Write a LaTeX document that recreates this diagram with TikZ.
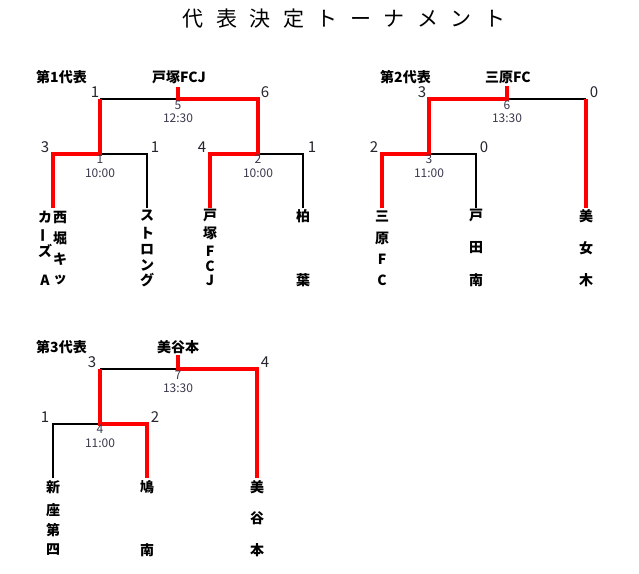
\documentclass[tikz,border=0pt]{standalone}
\usepackage{fontspec}
\setmainfont{Noto Sans CJK JP}
\definecolor{scorecol}{HTML}{252530}
\definecolor{matchcol}{HTML}{3A3A4E}
\definecolor{winred}{HTML}{FF0000}
\newcommand\tgap{\hspace{12.5pt}}
\newcommand\teamcol[3]{%
  \foreach \yy/\cc [count=\ii] in {#3} {\node[team] (#1-\ii) at (#2,\yy) {\cc};}%
}
\tikzset{
  team/.style={inner sep=0pt, font=\bfseries\fontsize{14}{16}\selectfont},
  hdr/.style={inner sep=0pt, font=\bfseries\fontsize{14}{16}\selectfont},
  score/.style={inner sep=0pt, text=scorecol, font=\fontsize{15}{17}\selectfont},
  mlabel/.style={inner sep=0pt, text=matchcol, font=\fontsize{12}{14}\selectfont},
  blkline/.style={draw=black, line width=1.6pt, line join=miter},
  redline/.style={draw=winred, line width=4pt, line join=miter},
}
\begin{document}
\begin{tikzpicture}[x=1pt,y=-1pt]
\useasboundingbox[fill=white] (0,0) rectangle (639,573);

% title
\node[inner sep=0pt, font=\fontsize{21}{24}\selectfont] (title) at (344,18.5)
  {代\tgap 表\tgap 決\tgap 定\tgap ト\tgap ー\tgap ナ\tgap メ\tgap ン\tgap ト};

% ---------------- bracket 1 ----------------
\node[hdr] (h1) at (61.5,77) {第1代表};
\node[hdr] (w1) at (179,77) {戸塚FCJ};
\coordinate (a1) at (178,87);  \coordinate (j5) at (178,99);
\coordinate (L5) at (100,99);  \coordinate (R5) at (258,99);
\coordinate (j1) at (100,154); \coordinate (l1) at (53,154);  \coordinate (r1) at (147,154);
\coordinate (l1b) at (53,208); \coordinate (r1b) at (147,208);
\coordinate (j2) at (258,154); \coordinate (l2) at (210,154); \coordinate (r2) at (303,154);
\coordinate (l2b) at (210,208); \coordinate (r2b) at (303,208);
\draw[blkline] (L5) -- (j5);
\draw[blkline] (j1) -- (r1) -- (r1b);
\draw[blkline] (j2) -- (r2) -- (r2b);
\draw[redline] (l1b) -- (l1) -- (j1) -- (L5);
\draw[redline] (l2b) -- (l2) -- (j2) -- (R5) -- (j5) -- (a1);

\node[score] (s1a) at (95,92) {1};
\node[score] (s1b) at (265,92) {6};
\node[score] (s1c) at (45,147) {3};
\node[score] (s1d) at (155,147) {1};
\node[score] (s1e) at (202,147) {4};
\node[score] (s1f) at (312,147) {1};
\node[mlabel] (m5) at (178,105) {5};
\node[mlabel] (t5) at (178,118) {12:30};
\node[mlabel] (m1) at (100,159) {1};
\node[mlabel] (t1) at (100,173) {10:00};
\node[mlabel] (m2) at (258,159) {2};
\node[mlabel] (t2) at (258,173) {10:00};

\teamcol{nsa}{60}{217/西,238/堀,259/キ,280/ッ}
\teamcol{nsb}{45}{217/カ,235/{\rotatebox{90}{ー}},251/ズ,280/A}
\teamcol{str}{147}{216/ス,233/ト,250/ロ,265/ン,280/グ}
\teamcol{tzk}{210}{216/戸,233/塚,251/F,266/C,280/J}
\teamcol{kash}{303}{216/柏,280/葉}

% ---------------- bracket 2 ----------------
\node[hdr] (h2) at (405.5,77) {第2代表};
\node[hdr] (w2) at (508,77) {三原FC};
\coordinate (a2) at (507,86);  \coordinate (j6) at (507,99);
\coordinate (L6) at (429,99);  \coordinate (R6) at (586,99); \coordinate (R6b) at (586,208);
\coordinate (j3) at (429,154); \coordinate (l3) at (382,154); \coordinate (r3) at (476,154);
\coordinate (l3b) at (382,208); \coordinate (r3b) at (476,208);
\draw[blkline] (j6) -- (R6);
\draw[blkline] (j3) -- (r3) -- (r3b);
\draw[redline] (l3b) -- (l3) -- (j3) -- (L6) -- (j6) -- (a2);
\draw[redline] (R6) -- (R6b);

\node[score] (s2a) at (422,92) {3};
\node[score] (s2b) at (594,92) {0};
\node[score] (s2c) at (374,147) {2};
\node[score] (s2d) at (484,147) {0};
\node[mlabel] (m6) at (507,105) {6};
\node[mlabel] (t6) at (507,118) {13:30};
\node[mlabel] (m3) at (429,159) {3};
\node[mlabel] (t3) at (429,173) {11:00};

\teamcol{mih}{382}{216/三,238/原,259/F,280/C}
\teamcol{tod}{476}{216/戸,248/田,280/南}
\teamcol{bjm}{586}{216/美,248/女,280/木}

% ---------------- bracket 3 ----------------
\node[hdr] (h3) at (61.5,347) {第3代表};
\node[hdr] (w3) at (178,347) {美谷本};
\coordinate (a3) at (178,355); \coordinate (j7) at (178,369);
\coordinate (L7) at (100,369); \coordinate (R7) at (257,369); \coordinate (R7b) at (257,478);
\coordinate (j4) at (100,424); \coordinate (l4) at (53,424); \coordinate (r4) at (147,424);
\coordinate (l4b) at (53,478); \coordinate (r4b) at (147,478);
\draw[blkline] (L7) -- (j7);
\draw[blkline] (j4) -- (l4) -- (l4b);
\draw[redline] (r4b) -- (r4) -- (j4) -- (L7);
\draw[redline] (R7b) -- (R7) -- (j7) -- (a3);

\node[score] (s3a) at (92,362) {3};
\node[score] (s3b) at (265,362) {4};
\node[score] (s3c) at (45,417) {1};
\node[score] (s3d) at (155,417) {2};
\node[mlabel] (m7) at (178,375) {7};
\node[mlabel] (t7) at (178,388) {13:30};
\node[mlabel] (m4) at (100,429) {4};
\node[mlabel] (t4) at (100,443) {11:00};

\teamcol{nzd}{53}{487/新,510/座,530/第,550/四}
\teamcol{htm}{147}{487/鳩,550/南}
\teamcol{myh}{257}{487/美,518/谷,550/本}
\end{tikzpicture}
\end{document}
